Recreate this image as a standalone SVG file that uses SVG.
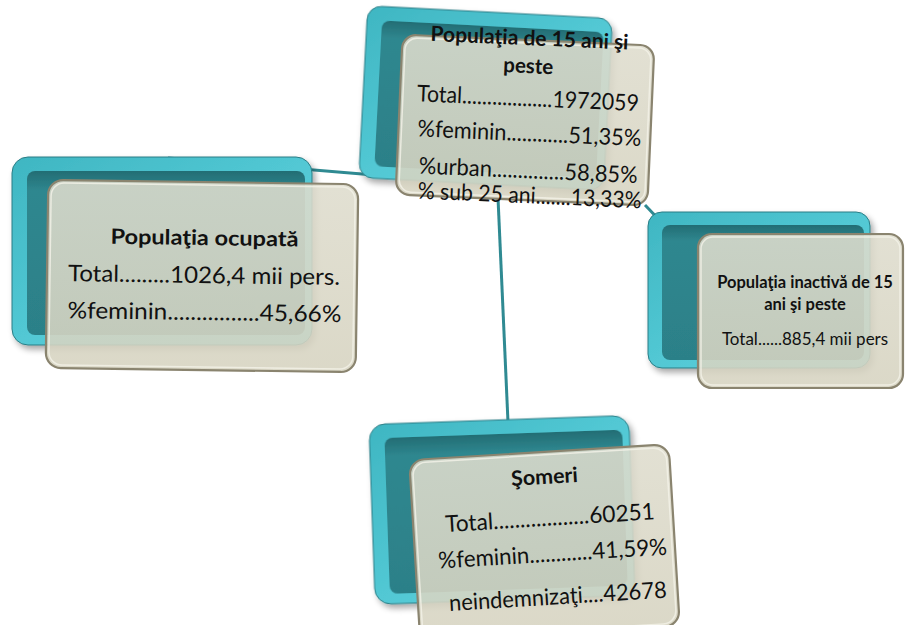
<svg xmlns="http://www.w3.org/2000/svg" width="905" height="625" viewBox="0 0 905 625">
<defs>
<linearGradient id="tOut" x1="0" y1="0" x2="1" y2="1"><stop offset="0" stop-color="#3fb6c2"/><stop offset="0.5" stop-color="#52c8d4"/><stop offset="1" stop-color="#5fd3de"/></linearGradient>
<linearGradient id="tIn" x1="0" y1="0" x2="0" y2="1"><stop offset="0" stop-color="#236d74"/><stop offset="0.12" stop-color="#2f878f"/><stop offset="1" stop-color="#2c8088"/></linearGradient>
<linearGradient id="bg" x1="0" y1="0" x2="0" y2="1"><stop offset="0" stop-color="#dedccd"/><stop offset="1" stop-color="#d6d3c0"/></linearGradient>
<filter id="sh" x="-10%" y="-10%" width="130%" height="130%"><feGaussianBlur in="SourceAlpha" stdDeviation="3"/><feOffset dx="3" dy="4"/><feComponentTransfer><feFuncA type="linear" slope="0.35"/></feComponentTransfer><feMerge><feMergeNode/><feMergeNode in="SourceGraphic"/></feMerge></filter>
</defs>
<style>
.out{fill:url(#tOut);stroke:#2a7d85;stroke-width:1}
.in{fill:url(#tIn)}
.front{fill:url(#bg);fill-opacity:0.88;stroke:#8a846f;stroke-width:2.2}
.hl{fill:none;stroke:#f4f2e8;stroke-width:1.5;opacity:0.8}
.conn{stroke:#2f8a92;stroke-width:3;fill:none}
text{font-family:Lato,"Open Sans","Liberation Sans",sans-serif;fill:#111}
.b{font-weight:bold;font-size:21px}
.r{font-size:23px}
.rs{font-size:17px}
.bs{font-weight:bold;font-size:16.5px}
</style>
<rect width="905" height="625" fill="#fff"/>
<g id="connectors">
<line class="conn" x1="168" y1="158" x2="374" y2="175"/>
<line class="conn" x1="498" y1="198" x2="508" y2="422"/>
<line class="conn" x1="645" y1="205" x2="665" y2="226"/>
</g>
<g id="node-top">
<g transform="rotate(3 485 100)" filter="url(#sh)">
<rect class="out" x="363" y="12" width="245" height="172" rx="14"/>
<rect class="in" x="378" y="26" width="222" height="146" rx="8"/>
</g>
<g transform="rotate(2.5 524 120)">
<rect class="front" x="399" y="40" width="252" height="160" rx="14"/>
<rect class="hl" x="402" y="43" width="246" height="154" rx="12"/>
<text class="b" x="526" y="45" text-anchor="middle" textLength="198" lengthAdjust="spacingAndGlyphs">Populaţia de 15 ani şi</text>
<text class="b" x="526" y="73" text-anchor="middle" textLength="50" lengthAdjust="spacingAndGlyphs">peste</text>
<text class="r" x="416" y="106" textLength="222" lengthAdjust="spacingAndGlyphs">Total..................1972059</text>
<text class="r" x="418" y="141" textLength="224" lengthAdjust="spacingAndGlyphs">%feminin............51,35%</text>
<text class="r" x="421" y="178" textLength="219" lengthAdjust="spacingAndGlyphs">%urban..............58,85%</text>
<text class="r" x="421" y="203" textLength="224" lengthAdjust="spacingAndGlyphs">% sub 25 ani.......13,33%</text>
</g>
</g>
<g id="node-left">
<g filter="url(#sh)">
<rect class="out" x="12" y="157" width="300" height="188" rx="16"/>
<rect class="in" x="27" y="171" width="278" height="164" rx="8"/>
</g>
<g transform="rotate(0.8 200 275)">
<rect class="front" x="47" y="182" width="310" height="188" rx="15"/>
<rect class="hl" x="50" y="185" width="304" height="182" rx="13"/>
<text class="b" x="204" y="245" text-anchor="middle" textLength="188" lengthAdjust="spacingAndGlyphs">Populaţia ocupată</text>
<text class="r" x="68" y="283" textLength="272" lengthAdjust="spacingAndGlyphs">Total.........1026,4 mii pers.</text>
<text class="r" x="68" y="320" textLength="274" lengthAdjust="spacingAndGlyphs">%feminin................45,66%</text>
</g>
</g>
<g id="node-right">
<g filter="url(#sh)">
<rect class="out" x="648" y="212" width="222" height="156" rx="14"/>
<rect class="in" x="662" y="225" width="202" height="135" rx="8"/>
</g>
<g>
<rect class="front" x="698" y="234" width="205" height="154" rx="14"/>
<rect class="hl" x="701" y="237" width="199" height="148" rx="12"/>
<text class="bs" x="805" y="288" text-anchor="middle">Populaţia inactivă de 15</text>
<text class="bs" x="805" y="310" text-anchor="middle">ani şi peste</text>
<text class="rs" x="805" y="345" text-anchor="middle">Total......885,4 mii pers</text>
</g>
</g>
<g id="node-bottom">
<g transform="rotate(-2 500 510)" filter="url(#sh)">
<rect class="out" x="372" y="420" width="260" height="180" rx="16"/>
<rect class="in" x="387" y="434" width="238" height="156" rx="8"/>
</g>
<g transform="rotate(-3.5 545 535)">
<rect class="front" x="414" y="452" width="260" height="182" rx="15"/>
<rect class="hl" x="417" y="455" width="254" height="176" rx="13"/>
<text class="b" x="548" y="484" text-anchor="middle" textLength="67" lengthAdjust="spacingAndGlyphs">Şomeri</text>
<text class="r" x="446" y="526" textLength="210" lengthAdjust="spacingAndGlyphs">Total..................60251</text>
<text class="r" x="437" y="562" textLength="229" lengthAdjust="spacingAndGlyphs">%feminin............41,59%</text>
<text class="r" x="445" y="605" textLength="218" lengthAdjust="spacingAndGlyphs">neindemnizaţi....42678</text>
</g>
</g>
</svg>
